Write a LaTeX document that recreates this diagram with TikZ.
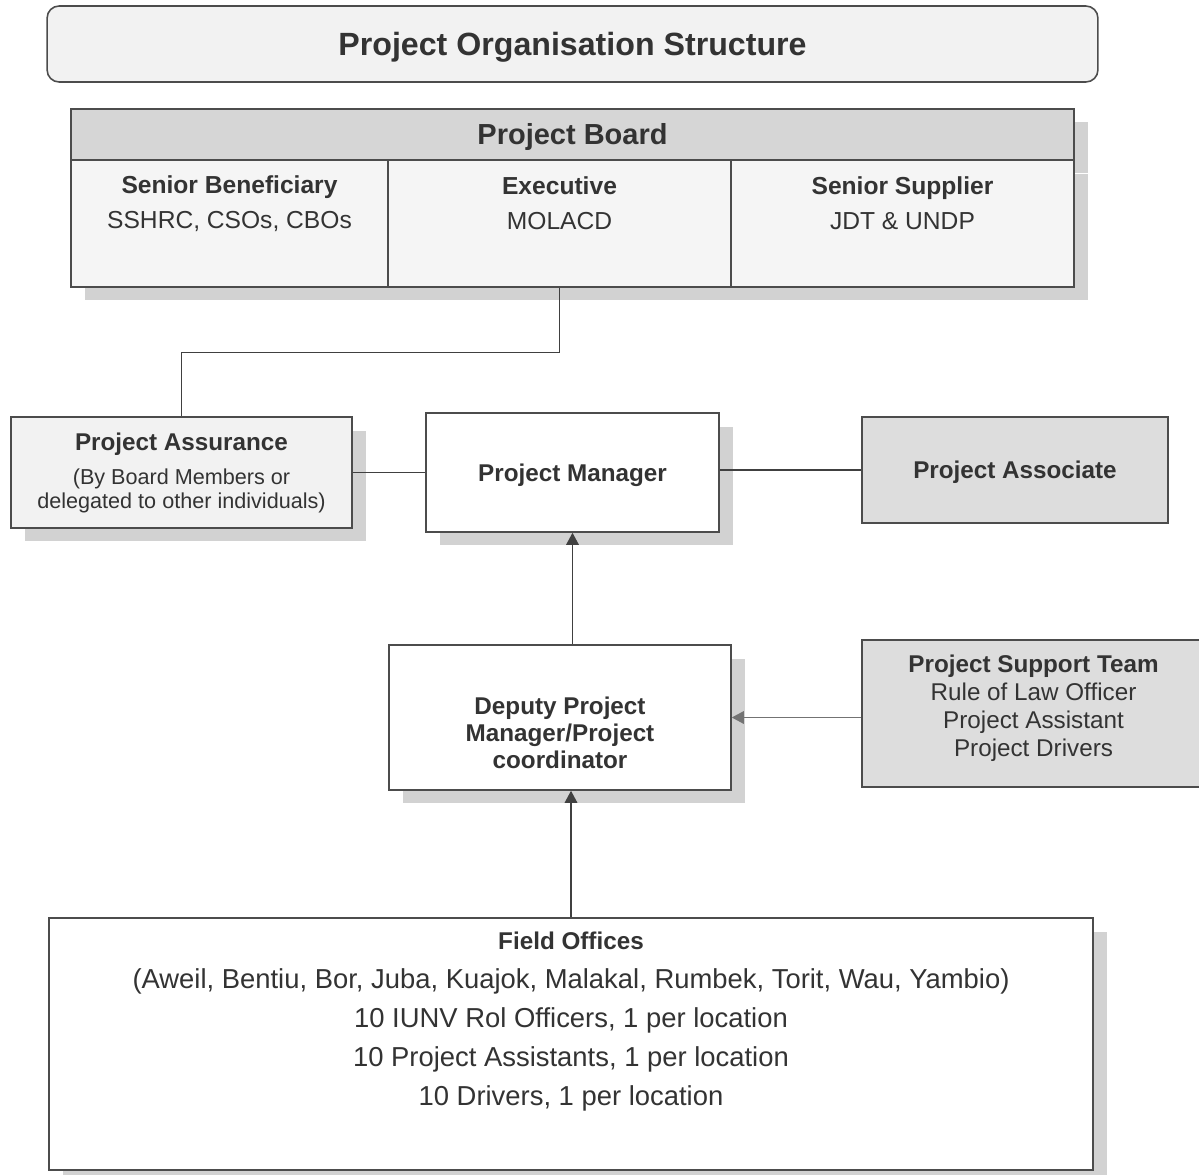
\documentclass[tikz,border=0pt]{standalone}
\usepackage{fontspec}
\setmainfont{Liberation Sans}
\usetikzlibrary{arrows.meta,positioning,shadows}

\tikzset{
  box/.style={draw=black!70, line width=0.9pt, inner sep=0pt, align=center, text=black!80},
  shade/.style={drop shadow={shadow xshift=0.28cm, shadow yshift=-0.27cm, fill=gray!35, opacity=1}},
  head/.style={font=\fontsize{13.8}{15.4}\selectfont\bfseries, text=black!80, align=center, inner sep=0pt},
  celltext/.style={font=\fontsize{14}{19.9}\selectfont, text=black!80, align=center, inner sep=0pt},
  link/.style={draw=black!75, line width=0.8pt},
  tip/.style={link, -{Triangle[width=0.25cm,length=0.24cm]}},
}

\begin{document}
\begin{tikzpicture}[x=0.02cm, y=-0.02cm]
  \useasboundingbox (0,0) rectangle (1199,1175);

  % title
  \node[box, rounded corners=0.24cm, fill=gray!10, minimum width=21.02cm, minimum height=1.52cm,
        font=\fontsize{18.3}{20}\selectfont\bfseries, text depth=0pt] (title) at (572.5,44) {Project Organisation Structure};

  % board
  \node[box, shade, fill=gray!32, minimum width=20.06cm, minimum height=1.02cm, text depth=0pt,
        font=\fontsize{16.5}{19}\selectfont\bfseries] (board) at (572.5,134.5) {Project Board};
  \node[box, shade, fill=gray!8, minimum width=6.34cm, minimum height=2.54cm] (ben) at (229.5,223.5) {};
  \node[box, shade, fill=gray!8, minimum width=6.86cm, minimum height=2.54cm] (exe) at (559.5,223.5) {};
  \node[box, shade, fill=gray!8, minimum width=6.86cm, minimum height=2.54cm] (sup) at (902.5,223.5) {};
  \node[celltext] (bentext) at (229.5,204) {\textbf{Senior Beneficiary}\\SSHRC, CSOs, CBOs};
  \node[celltext] (exetext) at (559.5,203.5) {\textbf{Executive}\\MOLACD};
  \node[celltext] (suptext) at (902.5,203.5) {\textbf{Senior Supplier}\\JDT \& UNDP};

  % middle row
  \node[box, shade, fill=gray!10, minimum width=6.82cm, minimum height=2.22cm] (assur) at (181.5,472.5) {};
  \node[celltext, font=\fontsize{12.3}{13.9}\selectfont] (assurtext) at (181.5,473)
       {{\fontsize{13.8}{15}\selectfont\bfseries Project Assurance}\\[5.5pt]
        (By Board Members or\\delegated to other individuals)};
  \node[box, shade, fill=white, minimum width=5.86cm, minimum height=2.38cm, head, text depth=0pt] (pm) at (572.5,472.5) {Project Manager};
  \node[box, fill=gray!27, minimum width=6.12cm, minimum height=2.12cm, head, text depth=0pt] (assoc) at (1015,470) {Project Associate};

  % deputy and support team
  \node[box, shade, fill=white, minimum width=6.84cm, minimum height=2.9cm] (dpm) at (560,717.5) {};
  \node[head] (dpmtext) at (560,733) {Deputy Project\\Manager/Project\\coordinator};
  \node[box, fill=gray!27, minimum width=6.86cm, minimum height=2.94cm] (team) at (1033.5,713.5) {};
  \node[celltext, font=\fontsize{13.8}{15.9}\selectfont] (teamtext) at (1033.5,708.5)
       {\textbf{Project Support Team}\\Rule of Law Officer\\Project Assistant\\Project Drivers};

  % field offices
  \node[box, shade, fill=white, minimum width=20.88cm, minimum height=5.04cm] (field) at (571,1044) {};
  \node[celltext, font=\fontsize{15.6}{22.2}\selectfont] (fieldtext) at (571,1022)
       {{\fontsize{13.8}{15}\selectfont\bfseries Field Offices}\\
        (Aweil, Bentiu, Bor, Juba, Kuajok, Malakal, Rumbek, Torit, Wau, Yambio)\\
        10 IUNV Rol Officers, 1 per location\\
        10 Project Assistants, 1 per location\\
        10 Drivers, 1 per location};

  % connectors
  \draw[link] (exe.south) -- ++(0,65) -| (assur.north);
  \draw[link] (assur.east) -- (pm.west);
  \draw[link] (pm.east |- assoc.west) -- (assoc.west);
  \draw[tip] (dpm.north -| pm.south) -- (pm.south);
  \draw[tip, draw=black!55] (team.west |- dpm.east) -- (dpm.east);
  \draw[tip] (field.north) -- (field.north |- dpm.south);
\end{tikzpicture}
\end{document}
